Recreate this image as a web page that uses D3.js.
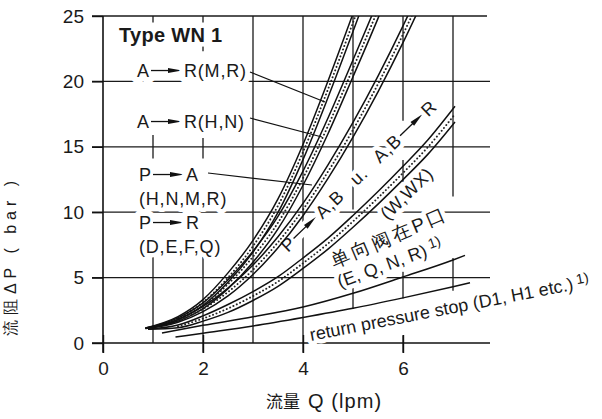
<!DOCTYPE html>
<html><head><meta charset="utf-8">
<script src="https://cdn.jsdelivr.net/npm/d3@7"></script>
<style>
body{margin:0;background:#fff;}
svg{display:block;}
text{font-family:"Liberation Sans",Arial,sans-serif;fill:#1a1a1a;}
</style></head><body>
<svg id="c" width="602" height="419"></svg>
<script>
// ---------- data ----------
const xTicks = [0, 2, 4, 6];
const yTicks = [0, 5, 10, 15, 20, 25];
const gridY = [5, 10, 15, 20, 25];
const gridXSegments = [
  [1, [[0, 7], [14.1, 15.9], [24.5, 25]]],
  [2, [[-0.75, 7], [14.1, 15.9], [22.3, 22.7], [24.5, 25]]],
  [3, [[0, 25]]],
  [4, [[-0.75, 25]]],
  [5, [[2.6, 4.2], [10.2, 11], [11, 25]]],
  [6, [[-0.75, 0.6], [3.4, 5.5], [12.3, 14], [17, 25]]],
  [7, [[4.0, 6.5], [11.2, 25]]]
];

// band A->R (M,R)
const mrQ     = [0.85, 1.5, 2, 2.5, 3, 3.5, 4, 4.5, 5, 5.3];
const mrUpper = [1.15, 2.02, 3.32, 5.36, 7.85, 11.02, 15.18, 20.03, 25.18, 28.3];
const mrLower = [1.15, 1.78, 2.88, 4.64, 6.95, 9.98, 14.02, 18.77, 23.82, 26.9];
// band A->R (H,N)
const hnQ     = [0.85, 1.5, 2, 2.5, 3, 3.5, 4, 4.5, 5, 5.5, 5.7];
const hnUpper = [1.12, 1.92, 3.07, 4.84, 7.02, 9.68, 13.14, 17.2, 21.64, 26.18, 28.1];
const hnLower = [1.12, 1.68, 2.63, 4.16, 6.18, 8.72, 12.06, 16.0, 20.36, 24.82, 26.7];
// band P->A / P->R
const paQ     = [0.85, 1.5, 2, 2.5, 3, 3.5, 4, 4.5, 5, 5.5, 6, 6.5];
const paUpper = [1.1, 1.81, 2.8, 4.2, 5.96, 8.12, 10.67, 13.62, 16.86, 20.4, 24.24, 28.38];
const paLower = [1.1, 1.59, 2.4, 3.6, 5.24, 7.28, 9.73, 12.58, 15.74, 19.2, 22.96, 27.02];
// band P->A,B u. A,B->R (W,WX)
const wQ      = [0.9, 1.5, 2, 2.5, 3, 3.5, 4, 4.5, 5, 5.5, 6, 6.5, 7.04];
const wUpper  = [1.05, 1.37, 2.07, 2.94, 3.93, 5.07, 6.5, 8.02, 9.75, 11.58, 13.51, 15.54, 18.1];
const wLower  = [1.05, 1.17, 1.67, 2.34, 3.25, 4.33, 5.7, 7.18, 8.85, 10.62, 12.49, 14.44, 16.9];
// single lines
const checkQ  = [1.18, 2, 3, 4, 5, 6, 7, 7.24];
const checkP  = [0.77, 1.35, 2.0, 2.75, 3.8, 5.05, 6.35, 6.7];
const retQ    = [1.45, 2, 3, 4, 5, 6, 7, 7.34];
const retP    = [0.45, 0.75, 1.3, 1.95, 2.65, 3.45, 4.3, 4.6];

// ---------- drawing ----------
const svg = d3.select("#c");
const x = d3.scaleLinear().domain([0, 7]).range([103, 453]);
const y = d3.scaleLinear().domain([0, 25]).range([343, 16]);
const X0 = -0.22, X1 = 7.74;

svg.append("rect").attr("width", 602).attr("height", 419).attr("fill", "#fff");

// grid
const grid = svg.append("g").attr("stroke", "#1a1a1a").attr("stroke-width", 1.3).attr("fill", "none");
gridY.forEach(v => grid.append("line")
  .attr("x1", x(X0)).attr("x2", x(v === 25 ? 7.68 : X1))
  .attr("y1", y(v)).attr("y2", y(v)));
gridXSegments.forEach(([q, segs]) => segs.forEach(s =>
  grid.append("line").attr("x1", x(q)).attr("x2", x(q)).attr("y1", y(s[0])).attr("y2", y(s[1]))));

// axes
const ax = svg.append("g").attr("stroke", "#111").attr("stroke-width", 1.6);
ax.append("line").attr("x1", x(X0)).attr("x2", x(X1)).attr("y1", y(0)).attr("y2", y(0));
ax.append("line").attr("x1", x(0)).attr("x2", x(0)).attr("y1", y(25)).attr("y2", y(-0.75));

const gx = svg.append("g").attr("transform", `translate(0,${y(0)})`)
  .call(d3.axisBottom(x).tickValues(xTicks).tickSize(10).tickPadding(9).tickFormat(d3.format("d")));
gx.select(".domain").remove();
gx.selectAll(".tick line").attr("y1", -8).attr("stroke", "#111").attr("stroke-width", 1.4);
gx.selectAll(".tick text").attr("font-size", 19).attr("font-family", "Liberation Sans, Arial, sans-serif").attr("fill", "#222");

const gy = svg.append("g").attr("transform", `translate(${x(0)},0)`)
  .call(d3.axisLeft(y).tickValues(yTicks).tickSize(11).tickPadding(8).tickFormat(d3.format("d")));
gy.select(".domain").remove();
gy.selectAll(".tick line").attr("stroke", "#111").attr("stroke-width", 1.4);
gy.selectAll(".tick text").attr("font-size", 19).attr("font-family", "Liberation Sans, Arial, sans-serif").attr("fill", "#222");

// helpers for labels with halos
function halo(sel, w) {
  return sel.attr("stroke", "#fff").attr("stroke-width", w || 9).attr("stroke-linejoin", "round").attr("paint-order", "stroke");
}
function arrow(g, a, b, yy) {
  g.append("line").attr("x1", a).attr("x2", b).attr("y1", yy).attr("y2", yy)
    .attr("stroke", "#fff").attr("stroke-width", 12);
  g.append("line").attr("x1", a).attr("x2", b - 8).attr("y1", yy).attr("y2", yy)
    .attr("stroke", "#111").attr("stroke-width", 1.3);
  g.append("path").attr("d", `M${b - 14},${yy - 2.6}L${b},${yy}L${b - 14},${yy + 2.6}Z`).attr("fill", "#111");
}
function arrowLabel(g, x0, yb, left, right, len, fs) {
  const t1 = halo(g.append("text").attr("x", x0).attr("y", yb).attr("font-size", fs).text(left), 12);
  const w = t1.node().getComputedTextLength();
  const a = x0 + w + 2, b = a + len;
  arrow(g, a, b, yb - fs * 0.36);
  halo(g.append("text").attr("x", b + 2).attr("y", yb).attr("font-size", fs).attr("letter-spacing", 0.8).text(right), 12);
  return b + 2;
}

const lab = svg.append("g");
// title
halo(lab.append("text").attr("x", 119).attr("y", 42).attr("font-size", 20).attr("letter-spacing", 0.3)
  .attr("font-weight", "bold").text("Type WN 1"));
arrowLabel(lab, 137, 77, "A", "R(M,R)", 31, 18);
arrowLabel(lab, 137, 128, "A", "R(H,N)", 31, 18);
arrowLabel(lab, 139, 181, "P", "A", 31, 18);
halo(lab.append("text").attr("x", 139).attr("y", 205).attr("font-size", 18).attr("letter-spacing", 0.8).text("(H,N,M,R)"));
arrowLabel(lab, 139, 229, "P", "R", 31, 18);
halo(lab.append("text").attr("x", 139).attr("y", 253).attr("font-size", 18).attr("letter-spacing", 0.8).text("(D,E,F,Q)"));

// rotated labels
const r1 = lab.append("g").attr("transform", "translate(288,253) rotate(-44)");
{
  const t1 = halo(r1.append("text").attr("x", 0).attr("y", 0).attr("font-size", 18).text("P"));
  const w1 = t1.node().getComputedTextLength();
  arrow(r1, w1 + 2, w1 + 33, -6.5);
  const t2 = halo(r1.append("text").attr("x", w1 + 36).attr("y", 0).attr("font-size", 18)
    .attr("word-spacing", 10).attr("letter-spacing", 1).text("A,B u. A,B"));
  const w2 = t2.node().getComputedTextLength();
  const s = w1 + 36 + w2 + 2;
  arrow(r1, s, s + 31, -6.5);
  halo(r1.append("text").attr("x", s + 33).attr("y", 0).attr("font-size", 18).text("R"));
}
halo(lab.append("text").attr("transform", "translate(411,198) rotate(-44)").attr("text-anchor", "middle")
  .attr("font-size", 18).attr("letter-spacing", 0.6).text("(W,WX)"));
halo(lab.append("text").attr("transform", "translate(334,268) rotate(-23)")
  .attr("font-family", "Noto Sans CJK SC").attr("font-size", 19).attr("letter-spacing", 3).text("单向阀在P口"));
{
  const t = halo(lab.append("text").attr("transform", "translate(340,288) rotate(-20)").attr("font-size", 18));
  t.append("tspan").text("(E, Q, N, R)");
  t.append("tspan").attr("dy", -6).attr("font-size", 14).text(" 1)");
}
{
  const t = halo(lab.append("text").attr("transform", "translate(311,341) rotate(-11)").attr("font-size", 18));
  t.append("tspan").text("return pressure stop (D1, H1 etc.)");
  t.append("tspan").attr("dy", -5).attr("font-size", 14).text(" 1)");
}

// axis titles
halo(svg.append("text").attr("transform", "translate(16,256) rotate(-90)").attr("text-anchor", "middle")
  .attr("font-family", "Noto Sans CJK SC").attr("font-size", 16).attr("letter-spacing", 5).attr("fill", "#333")
  .text("流阻ΔP ( bar )"));
{
  const t = svg.append("text").attr("x", 266).attr("y", 408).attr("font-size", 20).attr("fill", "#222");
  t.append("tspan").attr("font-family", "Noto Sans CJK SC").attr("font-size", 17).text("流量");
  t.append("tspan").attr("dx", 8).attr("letter-spacing", 1.1).text("Q (lpm)");
}

// curves
svg.append("clipPath").attr("id", "clip").append("rect")
  .attr("x", x(0)).attr("y", y(25)).attr("width", x(X1) - x(0)).attr("height", y(0) - y(25));
const cg = svg.append("g").attr("clip-path", "url(#clip)");
const line = d3.line().x(d => x(d[0])).y(d => y(d[1])).curve(d3.curveMonotoneX);
const zipPts = (qs, ps) => qs.map((q, i) => [q, ps[i]]);

function band(qs, up, lo) {
  const mid = qs.map((q, i) => [q, (up[i] + lo[i]) / 2]).slice(1);
  cg.append("path").attr("d", line(mid)).attr("fill", "none").attr("stroke", "#222")
    .attr("stroke-width", 1.9).attr("stroke-linecap", "round").attr("stroke-dasharray", "0.1 3.6");
  [up, lo].forEach(arr => cg.append("path").attr("d", line(zipPts(qs, arr)))
    .attr("fill", "none").attr("stroke", "#111").attr("stroke-width", 1.5));
}
band(mrQ, mrUpper, mrLower);
band(hnQ, hnUpper, hnLower);
band(paQ, paUpper, paLower);
band(wQ, wUpper, wLower);
[[checkQ, checkP], [retQ, retP]].forEach(([q, p]) =>
  cg.append("path").attr("d", line(zipPts(q, p))).attr("fill", "none").attr("stroke", "#111").attr("stroke-width", 1.5));

// leader lines
const leaders = svg.append("g").attr("stroke", "#111").attr("stroke-width", 1.2);
leaders.append("line").attr("x1", 250).attr("y1", 72).attr("x2", 325).attr("y2", 102);
leaders.append("line").attr("x1", 250).attr("y1", 118).attr("x2", 322).attr("y2", 137);
leaders.append("line").attr("x1", 208).attr("y1", 173).attr("x2", 312).attr("y2", 185);
</script>
</body></html>
